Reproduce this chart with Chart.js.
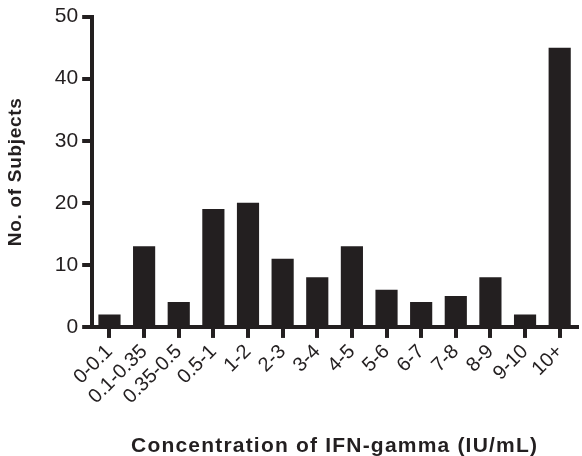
<html>
<head>
  <title>IFN-gamma</title>
  <script src="https://cdn.jsdelivr.net/npm/chart.js"></script>
  <style>
    body { margin: 0; background: #fff; }
    #wrap { width: 582px; height: 456px; position: relative; }
  </style>
</head>
<body>
  <div id="wrap"><canvas id="chart"></canvas></div>
  <script>
    // ranges of IFN-gamma concentration (IU/mL)
    const categories = ['0-0.1', '0.1-0.35', '0.35-0.5', '0.5-1', '1-2', '2-3', '3-4', '4-5',
      '5-6', '6-7', '7-8', '8-9', '9-10', '10+'];
    // number of subjects per range
    const subjects = [2, 13, 4, 19, 20, 11, 8, 13, 6, 4, 5, 8, 2, 45];
    const yTicks = [0, 10, 20, 30, 40, 50];

    const ink = '#231f20';
    const fam = '"Liberation Sans", Arial, sans-serif';

    // axis titles in the original are a bit wider-spaced than the tick labels
    const titleSpacing = {
      id: 'titleSpacing',
      afterLayout(chart) {
        [['x', '1.2px'], ['y', '0.7px']].forEach(([id, ls]) => {
          const s = chart.scales[id];
          if (s._spaced) return;
          const orig = s.drawTitle.bind(s);
          s.drawTitle = function () {
            this.ctx.save();
            this.ctx.letterSpacing = ls;
            orig();
            this.ctx.restore();
          };
          s._spaced = true;
        });
      }
    };

    new Chart(document.getElementById('chart'), {
      type: 'bar',
      data: {
        labels: categories,
        datasets: [{
          data: subjects,
          backgroundColor: ink,
          borderWidth: 0,
          barPercentage: 0.64,
          categoryPercentage: 1
        }]
      },
      plugins: [titleSpacing],
      options: {
        responsive: true,
        maintainAspectRatio: false,
        animation: false,
        layout: { padding: { top: 9, right: 5, left: 4, bottom: -3 } },
        plugins: { legend: { display: false }, tooltip: { enabled: false } },
        scales: {
          x: {
            grid: { offset: false, drawOnChartArea: false, tickLength: 11, lineWidth: 4, color: ink },
            border: { display: true, width: 4, color: ink },
            ticks: {
              autoSkip: false, minRotation: 45, maxRotation: 45, color: ink, padding: 2,
              font: { family: fam, size: 20 }
            },
            title: {
              display: true,
              text: 'Concentration of IFN-gamma (IU/mL)',
              color: ink,
              padding: { top: 23, bottom: 0 },
              font: { family: fam, size: 21, weight: 'bold' }
            }
          },
          y: {
            min: 0,
            max: 50,
            afterBuildTicks: axis => { axis.ticks = yTicks.map(v => ({ value: v })); },
            grid: { drawOnChartArea: false, tickLength: 10, lineWidth: 4, color: ink },
            border: { display: true, width: 4, color: ink },
            ticks: { color: ink, padding: 4, font: { family: fam, size: 21 } },
            title: {
              display: true,
              text: 'No. of Subjects',
              color: ink,
              padding: { top: 0, bottom: 24 },
              font: { family: fam, size: 19, weight: 'bold' }
            }
          }
        }
      }
    });
  </script>
</body>
</html>
